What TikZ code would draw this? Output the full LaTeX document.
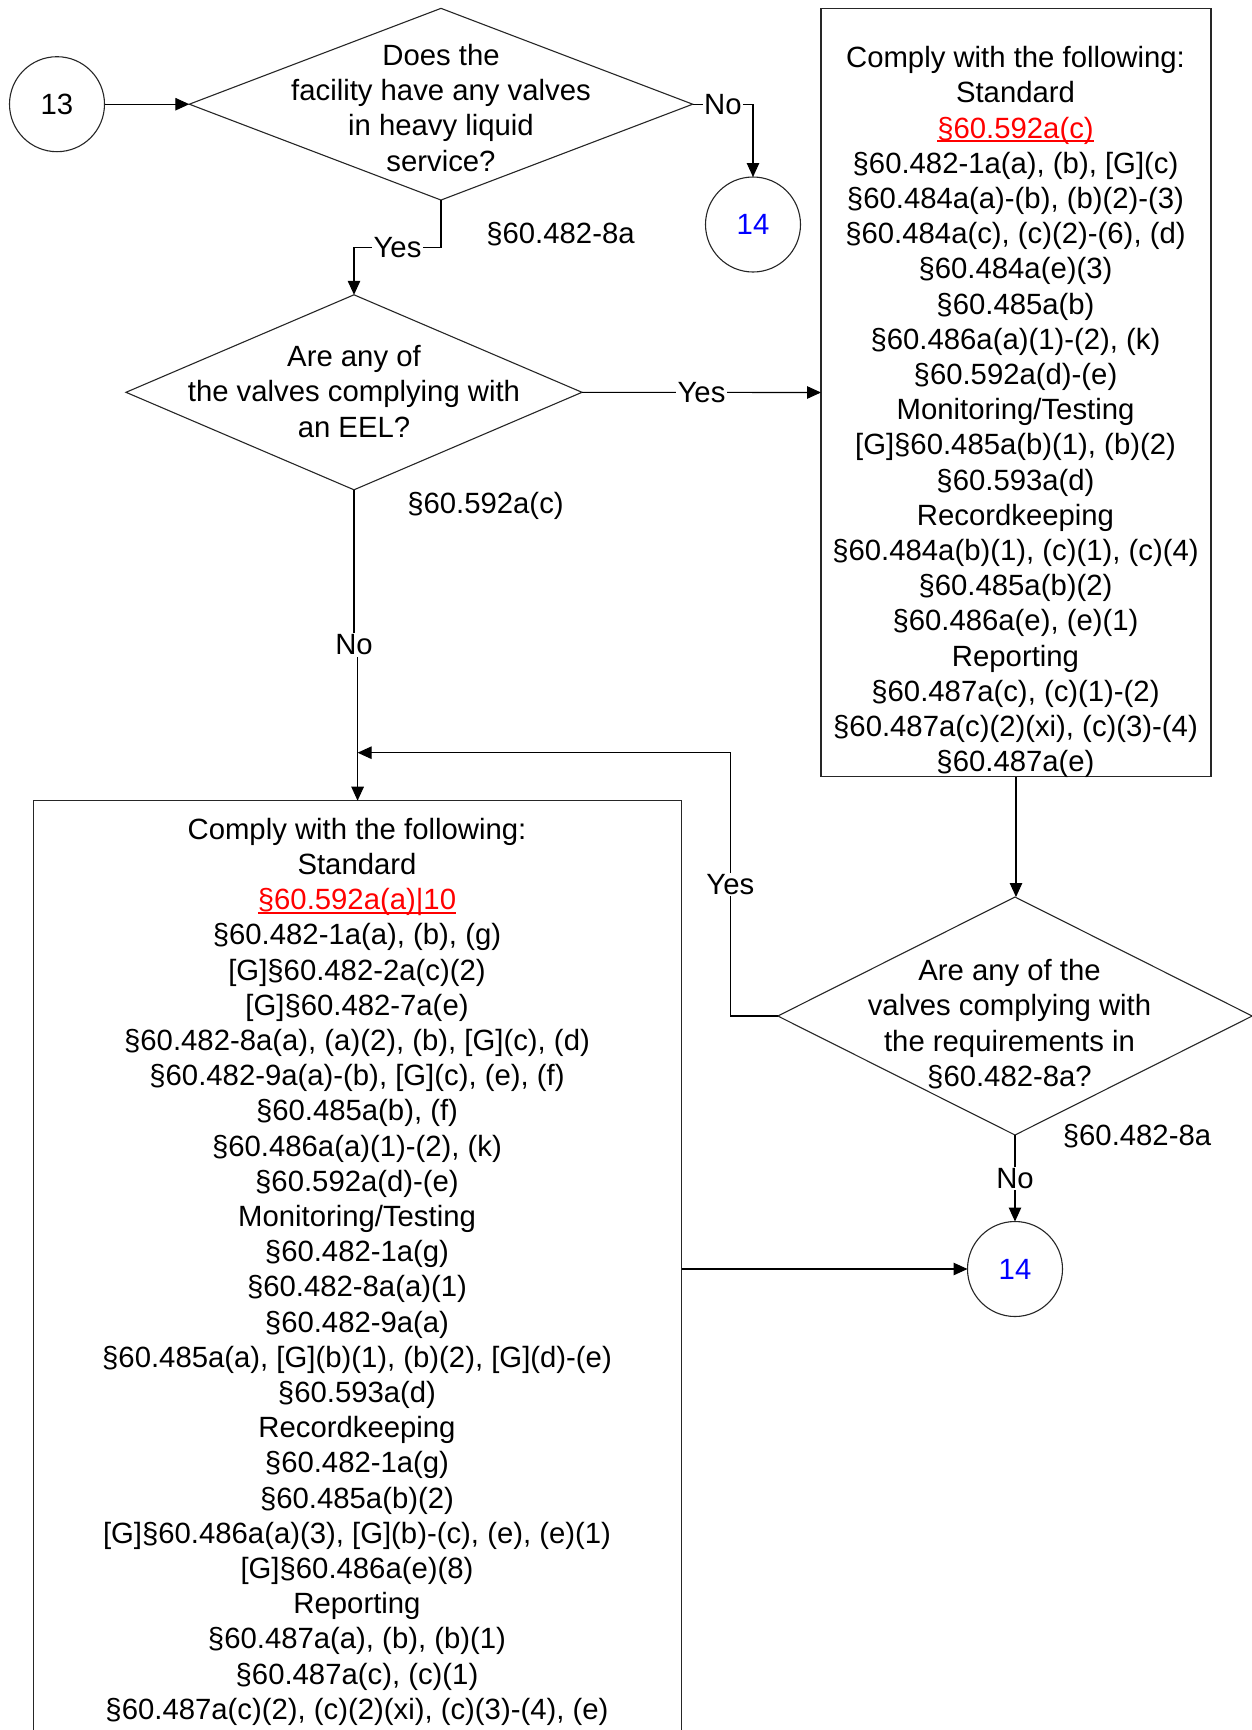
\documentclass[tikz,border=0pt]{standalone}
\usepackage{fontspec}
\setmainfont{Liberation Sans}
\usetikzlibrary{shapes.geometric,arrows.meta}
\definecolor{linkred}{RGB}{255,0,0}
\definecolor{refblue}{RGB}{0,0,255}
\newcommand\stack[1]{\vtop{\halign{\hfil##\hfil\cr#1\crcr}}}
\newcommand\redul[1]{{\color{linkred}\setbox0\hbox{#1}\rlap{\rule[-0.15em]{\wd0}{0.07em}}\box0}}
\tikzset{
  conn/.style={draw=black, line width=1.1pt, -{Triangle[length=14pt,width=12.5pt]}},
  shapebox/.style={draw=black!85, line width=1.1pt, inner sep=0pt, outer sep=0pt},
  lbl/.style={fill=white, inner sep=1.5pt},
  txt/.style={anchor=base, inner sep=0pt},
}
\begin{document}
\begin{tikzpicture}[x=1pt,y=-1pt,
  every node/.style={font=\fontsize{29.3pt}{35.2pt}\selectfont}]
\useasboundingbox[fill=white] (0,0) rectangle (1252,1730);

% shapes
\node[shapebox, circle, minimum size=95pt] (c13) at (57,104.2) {13};
\node[shapebox, circle, minimum size=95pt, text=refblue] (c14a) at (753,224.5) {14};
\node[shapebox, circle, minimum size=95pt, text=refblue] (c14b) at (1015,1269) {14};

\node[shapebox, diamond, minimum width=503.4pt, minimum height=191.7pt] (d1) at (441,104.2) {};
\node[shapebox, diamond, minimum width=456pt, minimum height=195pt] (d2) at (354,392.3) {};
\node[shapebox, diamond, minimum width=474.4pt, minimum height=238pt] (d3) at (1015,1016) {};

\node[shapebox, rectangle, minimum width=390pt, minimum height=768.4pt] (box1) at (1016,392.5) {};
\node[shapebox, rectangle, minimum width=648.2pt, minimum height=936.6pt] (box2) at (357.6,1269) {};

% texts
\node[txt] (d1t) at (441,65.5) {\stack{Does the\cr facility have any valves\cr in heavy liquid\cr service?}};
\node[txt] (d2t) at (354,366.6) {\stack{Are any of\cr the valves complying with\cr an EEL?}};
\node[txt] (d3t) at (1009.5,980.7) {\stack{Are any of the\cr valves complying with\cr the requirements in\cr §60.482-8a?}};

\node[txt] (b1t) at (1015.5,67.7) {\stack{Comply with the following:\cr
Standard\cr
\redul{§60.592a(c)}\cr
§60.482-1a(a), (b), [G](c)\cr
§60.484a(a)-(b), (b)(2)-(3)\cr
§60.484a(c), (c)(2)-(6), (d)\cr
§60.484a(e)(3)\cr
§60.485a(b)\cr
§60.486a(a)(1)-(2), (k)\cr
§60.592a(d)-(e)\cr
Monitoring/Testing\cr
[G]§60.485a(b)(1), (b)(2)\cr
§60.593a(d)\cr
Recordkeeping\cr
§60.484a(b)(1), (c)(1), (c)(4)\cr
§60.485a(b)(2)\cr
§60.486a(e), (e)(1)\cr
Reporting\cr
§60.487a(c), (c)(1)-(2)\cr
§60.487a(c)(2)(xi), (c)(3)-(4)\cr
§60.487a(e)}};

\node[txt] (b2t) at (357,839.3) {\stack{Comply with the following:\cr
Standard\cr
\redul{§60.592a(a)|10}\cr
§60.482-1a(a), (b), (g)\cr
[G]§60.482-2a(c)(2)\cr
[G]§60.482-7a(e)\cr
§60.482-8a(a), (a)(2), (b), [G](c), (d)\cr
§60.482-9a(a)-(b), [G](c), (e), (f)\cr
§60.485a(b), (f)\cr
§60.486a(a)(1)-(2), (k)\cr
§60.592a(d)-(e)\cr
Monitoring/Testing\cr
§60.482-1a(g)\cr
§60.482-8a(a)(1)\cr
§60.482-9a(a)\cr
§60.485a(a), [G](b)(1), (b)(2), [G](d)-(e)\cr
§60.593a(d)\cr
Recordkeeping\cr
§60.482-1a(g)\cr
§60.485a(b)(2)\cr
[G]§60.486a(a)(3), [G](b)-(c), (e), (e)(1)\cr
[G]§60.486a(e)(8)\cr
Reporting\cr
§60.487a(a), (b), (b)(1)\cr
§60.487a(c), (c)(1)\cr
§60.487a(c)(2), (c)(2)(xi), (c)(3)-(4), (e)}};

\node[txt] (ref1) at (560.5,243.3) {§60.482-8a};
\node[txt] (ref2) at (485.5,513) {§60.592a(c)};
\node[txt] (ref3) at (1137,1145) {§60.482-8a};

% connectors
\coordinate (join) at (357.6,752.7);
\draw[conn] (c13.east) -- (d1.west);
\draw[conn] (d1.east) -- (d1.east -| c14a) node[lbl,midway] {No} -- (c14a.north);
\draw[conn] (d1.south) -- ++(0,47.2) coordinate (k1) -- (k1 -| d2.north) node[lbl,midway] {Yes} -- (d2.north);
\draw[conn] (d2.east) -- (box1.west) node[lbl,midway] {Yes};
\draw[conn] (d2.south) -- ++(0,155) node[lbl] (no2) {No} -| (box2.north);
\draw[conn] (box1.south) -- (box1.south |- d3.north);
\draw[conn] (d3.west) -- ++(-47.5,0) coordinate (k3) -- (k3 |- join) node[lbl,midway] {Yes} -- (join);
\draw[conn] (d3.south) -- (c14b.north) node[lbl,midway] {No};
\draw[conn] (box2.east |- c14b) -- (c14b.west);
\end{tikzpicture}
\end{document}
